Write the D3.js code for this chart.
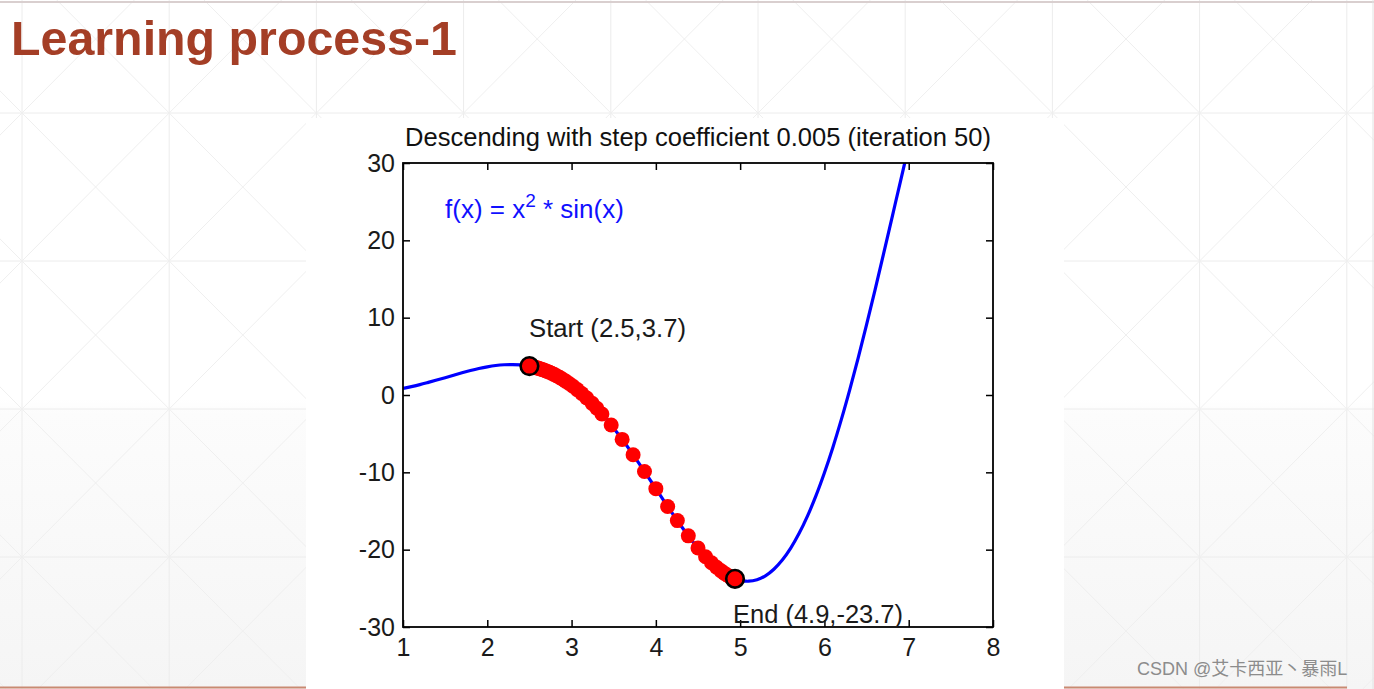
<!DOCTYPE html>
<html>
<head>
<meta charset="utf-8">
<script src="https://cdn.jsdelivr.net/npm/d3@7"></script>
<style>
  html, body { margin: 0; padding: 0; background: #fff; overflow: hidden; }
  svg { display: block; }
  text { font-family: "Liberation Sans", Arial, "Noto Sans CJK SC", sans-serif; }
</style>
</head>
<body>
<svg id="chart" width="1374" height="689"></svg>
<script>
// ---------------- data ----------------
const slideTitle = "Learning process-1";
const chartTitle = "Descending with step coefficient 0.005 (iteration 50)";
const watermark = "CSDN @艾卡西亚丶暴雨L";

// blue curve f(x) = x^2 * sin(x), samples
const curveX = [1.0,1.1,1.2,1.3,1.4,1.5,1.6,1.7,1.8,1.9,2.0,2.1,2.2,2.3,2.4,2.5,2.6,2.7,2.8,2.9,
                3.0,3.1,3.2,3.3,3.4,3.5,3.6,3.7,3.8,3.9,4.0,4.1,4.2,4.3,4.4,4.5,4.6,4.7,4.8,4.9,
                5.0,5.1,5.2,5.3,5.4,5.5,5.6,5.7,5.8,5.9,6.0,6.1,6.2,6.3,6.4,6.5,6.6,6.7,6.8,6.9,7.0];
const curveY = [0.84,1.08,1.34,1.63,1.93,2.24,2.56,2.87,3.16,3.42,3.64,3.81,3.91,3.94,3.89,3.74,3.48,3.12,2.63,2.01,
                1.27,0.40,-0.60,-1.72,-2.95,-4.30,-5.73,-7.25,-8.84,-10.46,-12.11,-13.76,-15.37,-16.94,-18.42,-19.79,-21.03,-22.09,-22.95,-23.59,
                -23.97,-24.08,-23.89,-23.38,-22.53,-21.34,-19.80,-17.89,-15.63,-13.02,-10.06,-6.78,-3.19,0.67,4.77,9.09,13.57,18.17,22.85,27.54,32.19];

// red gradient-descent iterates (iteration 0 .. 50)
const dotX = [2.500,2.510,2.521,2.532,2.544,2.556,2.570,2.584,2.599,2.615,2.632,2.650,2.670,2.691,2.713,2.737,2.763,2.791,2.821,2.854,
              2.890,2.929,2.971,3.017,3.067,3.121,3.180,3.244,3.300,3.360,3.470,3.600,3.730,3.865,4.000,4.140,4.255,4.385,4.500,4.590,
              4.660,4.720,4.770,4.810,4.840,4.865,4.885,4.900,4.915,4.928,4.939];
const dotY = [3.74,3.72,3.69,3.66,3.63,3.60,3.56,3.52,3.48,3.43,3.37,3.31,3.23,3.14,3.05,2.94,2.81,2.67,2.50,2.31,
              2.07,1.80,1.49,1.13,0.70,0.20,-0.39,-1.08,-1.72,-2.45,-3.88,-5.74,-7.72,-9.89,-12.11,-14.41,-16.24,-18.21,-19.79,-20.91,
              -21.69,-22.28,-22.71,-23.03,-23.24,-23.39,-23.51,-23.59,-23.66,-23.72,-23.77];

const startPt = {x: 2.5, y: 3.74, label: "Start (2.5,3.7)"};
const endPt = {x: 4.939, y: -23.77, label: "End (4.9,-23.7)"};

const xTicks = [1,2,3,4,5,6,7,8];
const yTicks = [-30,-20,-10,0,10,20,30];
const xDomain = [1, 8];
const yDomain = [-30, 30];

// ---------------- layout ----------------
const W = 1374, H = 689;
const plot = {left: 403, top: 163, right: 993, bottom: 627};

const svg = d3.select("#chart");
const defs = svg.append("defs");

// slide background gradient
const grad = defs.append("linearGradient").attr("id", "bgGrad")
  .attr("x1", 0).attr("y1", 0).attr("x2", 0).attr("y2", 1);
grad.append("stop").attr("offset", "0").attr("stop-color", "#ffffff");
grad.append("stop").attr("offset", "0.58").attr("stop-color", "#ffffff");
grad.append("stop").attr("offset", "0.6").attr("stop-color", "#fcfcfc");
grad.append("stop").attr("offset", "1").attr("stop-color", "#f5f5f5");
svg.append("rect").attr("width", W).attr("height", H).attr("fill", "url(#bgGrad)");

// background geometric pattern
const gx0 = 22, gdx = 147.2, gy0 = 113, gdy = 148;
const bg = svg.append("g").attr("stroke", "#ececec").attr("stroke-width", 1).attr("fill", "none");
const vLines = d3.range(-1, 10).map(k => gx0 + k * gdx);
const hLines = d3.range(-1, 5).map(k => gy0 + k * gdy);
bg.selectAll("line.v").data(vLines).join("line").attr("class", "v")
  .attr("x1", d => d).attr("x2", d => d).attr("y1", 0).attr("y2", H);
bg.selectAll("line.h").data(hLines).join("line").attr("class", "h")
  .attr("x1", 0).attr("x2", W).attr("y1", d => d).attr("y2", d => d);
const cells = [];
vLines.forEach(x => hLines.forEach(y => cells.push({x, y})));
bg.selectAll("path.d").data(cells).join("path").attr("class", "d")
  .attr("stroke", "#efefef")
  .attr("d", c => `M${c.x},${c.y}L${c.x + gdx},${c.y + gdy}M${c.x + gdx},${c.y}L${c.x},${c.y + gdy}`);

// frame lines of the slide
svg.append("line").attr("x1", 0).attr("x2", W).attr("y1", 2).attr("y2", 2)
  .attr("stroke", "#d9cfcf").attr("stroke-width", 2);
svg.append("line").attr("x1", 1373).attr("x2", 1373).attr("y1", 0).attr("y2", H)
  .attr("stroke", "#e2e2e2").attr("stroke-width", 1);
svg.append("line").attr("x1", 0).attr("x2", 1347).attr("y1", 687.5).attr("y2", 687.5)
  .attr("stroke", "#c98a72").attr("stroke-width", 2);

// slide title
svg.append("text").attr("x", 11).attr("y", 55)
  .attr("font-size", 48).attr("font-weight", "bold").attr("fill", "#a43e26")
  .attr("textLength", 446).attr("lengthAdjust", "spacingAndGlyphs")
  .text(slideTitle);

// white figure panel
svg.append("rect").attr("x", 306).attr("y", 118).attr("width", 758).attr("height", 571).attr("fill", "#ffffff");

// ---------------- chart ----------------
const x = d3.scaleLinear().domain(xDomain).range([plot.left, plot.right]);
const y = d3.scaleLinear().domain(yDomain).range([plot.bottom, plot.top]);

defs.append("clipPath").attr("id", "plotClip").append("rect")
  .attr("x", plot.left).attr("y", plot.top)
  .attr("width", plot.right - plot.left).attr("height", plot.bottom - plot.top);

// chart title
svg.append("text").attr("x", (plot.left + plot.right) / 2).attr("y", 146)
  .attr("text-anchor", "middle").attr("font-size", 25).attr("fill", "#111")
  .attr("textLength", 586).attr("lengthAdjust", "spacingAndGlyphs")
  .text(chartTitle);

// curve
const curveData = curveX.map((v, i) => ({x: v, y: curveY[i]}));
const line = d3.line().x(d => x(d.x)).y(d => y(d.y)).curve(d3.curveCatmullRom);
svg.append("g").attr("clip-path", "url(#plotClip)")
  .append("path").datum(curveData).attr("d", line)
  .attr("fill", "none").attr("stroke", "#0000ff").attr("stroke-width", 3.2);

// red descent points
const dots = dotX.map((v, i) => ({x: v, y: dotY[i]}));
svg.append("g").selectAll("circle").data(dots).join("circle")
  .attr("cx", d => x(d.x)).attr("cy", d => y(d.y)).attr("r", 7.5).attr("fill", "#ff0000");

// start / end markers
svg.append("g").selectAll("circle").data([startPt, endPt]).join("circle")
  .attr("cx", d => x(d.x)).attr("cy", d => y(d.y)).attr("r", 8.8)
  .attr("fill", "#ff0000").attr("stroke", "#000").attr("stroke-width", 2.6);

// axes
const tickLen = 7;
const axB = svg.append("g").attr("transform", `translate(0,${plot.bottom})`)
  .call(d3.axisBottom(x).tickValues(xTicks).tickSizeInner(-tickLen).tickSizeOuter(0).tickPadding(11).tickFormat(d3.format("d")));
const axL = svg.append("g").attr("transform", `translate(${plot.left},0)`)
  .call(d3.axisLeft(y).tickValues(yTicks).tickSizeInner(-tickLen).tickSizeOuter(0).tickPadding(8).tickFormat(d => d < 0 ? "-" + Math.abs(d) : String(d)));
const axT = svg.append("g").attr("transform", `translate(0,${plot.top})`)
  .call(d3.axisTop(x).tickValues(xTicks).tickSizeInner(-tickLen).tickSizeOuter(0).tickFormat(""));
const axR = svg.append("g").attr("transform", `translate(${plot.right},0)`)
  .call(d3.axisRight(y).tickValues(yTicks).tickSizeInner(-tickLen).tickSizeOuter(0).tickFormat(""));
[axB, axL, axT, axR].forEach(a => {
  a.select(".domain").remove();
  a.selectAll(".tick line").attr("stroke", "#000").attr("stroke-width", 1.5);
  a.selectAll(".tick text").attr("font-size", 25).attr("fill", "#1a1a1a")
    .attr("font-family", "'Liberation Sans', Arial, sans-serif");
});
svg.append("rect").attr("x", plot.left).attr("y", plot.top)
  .attr("width", plot.right - plot.left).attr("height", plot.bottom - plot.top)
  .attr("fill", "none").attr("stroke", "#000").attr("stroke-width", 1.8);

// annotations
svg.append("text").attr("x", 529).attr("y", 337).attr("font-size", 25).attr("fill", "#1a1a1a")
  .attr("textLength", 157).attr("lengthAdjust", "spacingAndGlyphs")
  .text(startPt.label);
svg.append("text").attr("x", 733).attr("y", 623).attr("font-size", 25).attr("fill", "#1a1a1a")
  .attr("textLength", 170).attr("lengthAdjust", "spacingAndGlyphs")
  .text(endPt.label);

const fx = svg.append("text").attr("x", 445).attr("y", 218).attr("font-size", 26).attr("fill", "#1010ff");
fx.append("tspan").text("f(x) = x");
fx.append("tspan").attr("font-size", 19).attr("dy", -11).text("2");
fx.append("tspan").attr("dy", 11).text(" * sin(x)");

// watermark
svg.append("text").attr("x", 1137).attr("y", 675).attr("font-size", 18).attr("fill", "#8c8c8c")
  .attr("font-family", "'Liberation Sans', 'Noto Sans CJK SC', sans-serif")
  .text(watermark);
</script>
</body>
</html>
